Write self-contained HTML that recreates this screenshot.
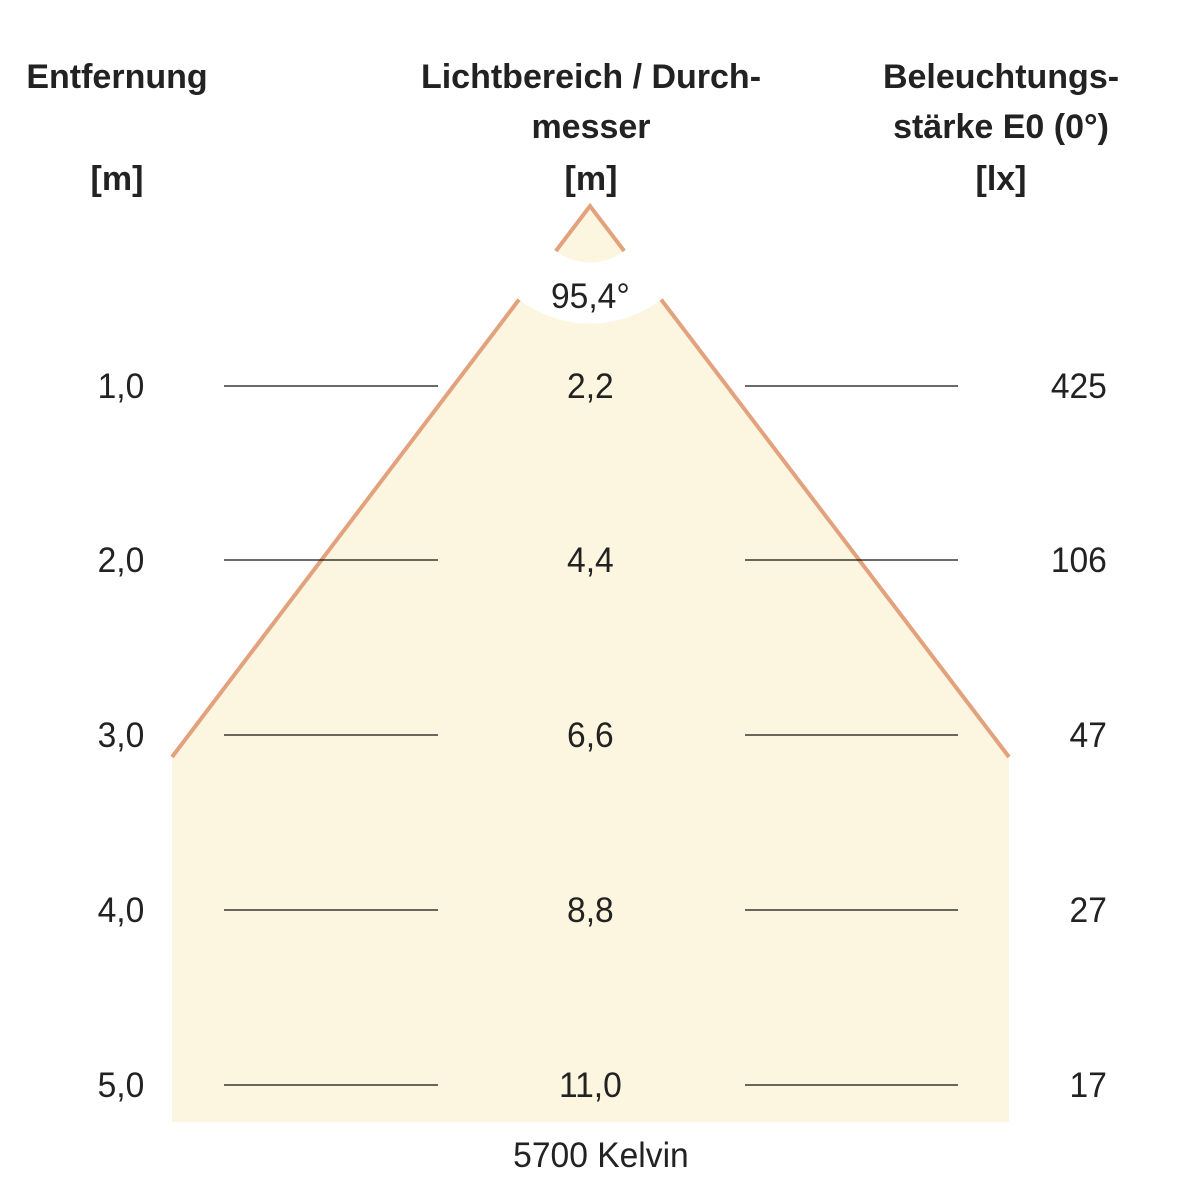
<!DOCTYPE html>
<html><head><style>
body{margin:0;background:#fff;}
svg text{font-family:"Liberation Sans",sans-serif;fill:#222;}
</style></head><body>
<svg width="1182" height="1182" xmlns="http://www.w3.org/2000/svg">
<polygon points="590,206 1009,757 1009,1122 172,1122 172,757" fill="#fcf5df"/>
<polyline points="172,757 590,206 1009,757" fill="none" stroke="#e3a27e" stroke-width="4"/>
<circle cx="590" cy="206" r="87" fill="none" stroke="#fff" stroke-width="61"/>
<g font-size="34" font-weight="bold" text-anchor="middle">
<text x="117" y="88">Entfernung</text>
<text x="117" y="190">[m]</text>
<text x="591" y="88">Lichtbereich / Durch-</text>
<text x="591" y="138">messer</text>
<text x="591" y="190">[m]</text>
<text x="1001" y="88">Beleuchtungs-</text>
<text x="1001" y="138">stärke E0 (0°)</text>
<text x="1001" y="190">[lx]</text>
</g>
<g stroke="#111" stroke-width="1.2">
<line x1="224" y1="386" x2="438" y2="386"/><line x1="745" y1="386" x2="958" y2="386"/>
<line x1="224" y1="560" x2="438" y2="560"/><line x1="745" y1="560" x2="958" y2="560"/>
<line x1="224" y1="735" x2="438" y2="735"/><line x1="745" y1="735" x2="958" y2="735"/>
<line x1="224" y1="910" x2="438" y2="910"/><line x1="745" y1="910" x2="958" y2="910"/>
<line x1="224" y1="1085" x2="438" y2="1085"/><line x1="745" y1="1085" x2="958" y2="1085"/>
</g>
<g font-size="35" text-anchor="middle" transform="scale(0.96,1)">
<text x="615" y="308">95,4°</text>
<text x="126" y="398">1,0</text><text x="615" y="398">2,2</text>
<text x="126" y="572">2,0</text><text x="615" y="572">4,4</text>
<text x="126" y="747">3,0</text><text x="615" y="747">6,6</text>
<text x="126" y="922">4,0</text><text x="615" y="922">8,8</text>
<text x="126" y="1097">5,0</text><text x="615" y="1097">11,0</text>
<text x="626" y="1167">5700 Kelvin</text>
</g>
<g font-size="35" text-anchor="end" transform="scale(0.96,1)">
<text x="1153" y="398">425</text>
<text x="1153" y="572">106</text>
<text x="1153" y="747">47</text>
<text x="1153" y="922">27</text>
<text x="1153" y="1097">17</text>
</g>
</svg>
</body></html>
